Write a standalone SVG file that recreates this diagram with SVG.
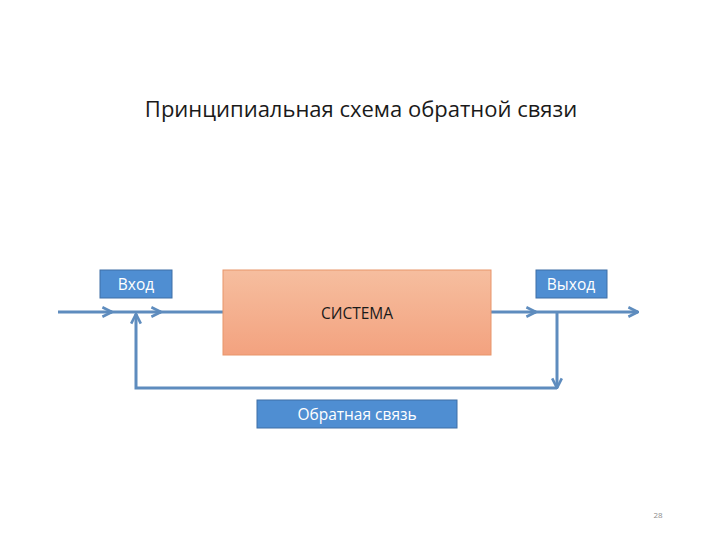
<svg xmlns="http://www.w3.org/2000/svg" width="720" height="540" viewBox="0 0 720 540">
<defs>
<linearGradient id="sysGrad" x1="0" y1="0" x2="0" y2="1">
<stop offset="0" stop-color="#F6BE9F"/>
<stop offset="1" stop-color="#F3A27F"/>
</linearGradient>
<marker id="chev" viewBox="0 0 10 10" refX="9" refY="5" markerWidth="4" markerHeight="4" orient="auto" markerUnits="strokeWidth">
<path d="M1,1 L9,5 L1,9" fill="none" stroke="#5E8CBE" stroke-width="2.2"/>
</marker>
<style>
.ln{fill:none;stroke:#5E8CBE;stroke-width:3}
.blue{fill:#4F8ED2;stroke:#3F6FA6;stroke-width:1}
.lbl{font-family:"Open Sans","Liberation Sans",sans-serif;font-size:15.5px;fill:#FFFFFF;text-anchor:middle}
</style>
</defs>
<rect width="720" height="540" fill="#FFFFFF"/>
<text id="title" x="361" y="117" font-family="'Open Sans','Liberation Sans',sans-serif" font-size="22" fill="#1A1A1A" text-anchor="middle">Принципиальная схема обратной связи</text>
<g id="connectors">
<line class="ln" x1="58" y1="312" x2="112" y2="312" marker-end="url(#chev)"/>
<line class="ln" x1="110" y1="312" x2="161" y2="312" marker-end="url(#chev)"/>
<line class="ln" x1="159" y1="312" x2="223" y2="312"/>
<line class="ln" x1="491" y1="312" x2="536" y2="312" marker-end="url(#chev)"/>
<line class="ln" x1="534" y1="312" x2="638" y2="312" marker-end="url(#chev)"/>
<polyline class="ln" points="557,312 557,388" marker-end="url(#chev)"/>
<polyline class="ln" points="557,388 136,388 136,314" marker-end="url(#chev)"/>
</g>
<g id="vhod">
<rect class="blue" x="100" y="270" width="72" height="28"/>
<text class="lbl" x="136" y="290">Вход</text>
</g>
<g id="sistema">
<rect x="223" y="270" width="268" height="85" fill="url(#sysGrad)" stroke="#E8956B" stroke-width="1"/>
<text x="357" y="319" font-family="'Open Sans','Liberation Sans',sans-serif" font-size="15.5" fill="#1A1A1A" text-anchor="middle">СИСТЕМА</text>
</g>
<g id="vyhod">
<rect class="blue" x="536" y="270" width="71" height="28"/>
<text class="lbl" x="571" y="290">Выход</text>
</g>
<g id="feedback">
<rect class="blue" x="257" y="400" width="200" height="28"/>
<text class="lbl" x="357" y="420">Обратная связь</text>
</g>
<text id="page" x="658" y="518" font-family="'Open Sans','Liberation Sans',sans-serif" font-size="8" fill="#8C8C8C" text-anchor="middle">28</text>
</svg>
